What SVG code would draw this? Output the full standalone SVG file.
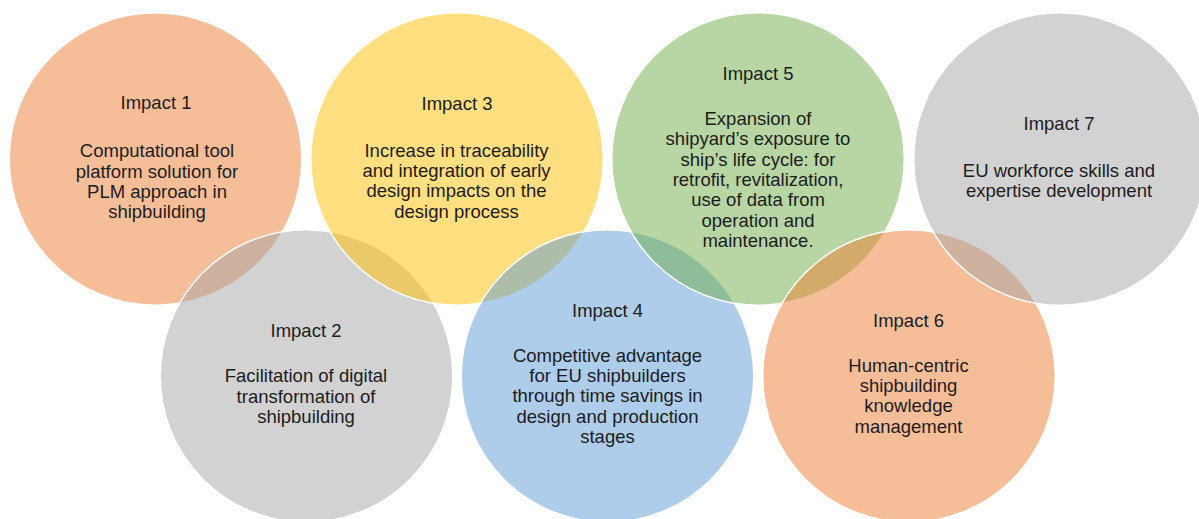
<svg xmlns="http://www.w3.org/2000/svg" width="1199" height="519" viewBox="0 0 1199 519">
<style>
.c{stroke:#ffffff;stroke-width:1.5;fill-opacity:0.5}
.t{font-family:"Liberation Sans",Arial,Helvetica,sans-serif;font-size:18.5px;fill:#1c1c1c;text-anchor:middle}
</style>
<rect width="1199" height="519" fill="#ffffff"/>
<g id="impact1">
<circle class="c" cx="155.5" cy="159" r="146.3" fill="#ED7D31"/>
<text class="t" x="156" y="109">Impact 1</text>
<text class="t" x="157" y="157.3">Computational tool</text>
<text class="t" x="157" y="177.6">platform solution for</text>
<text class="t" x="157" y="197.9">PLM approach in</text>
<text class="t" x="157" y="218.2">shipbuilding</text>
</g>
<g id="impact2">
<circle class="c" cx="306.5" cy="376" r="146.3" fill="#A5A5A5"/>
<text class="t" x="306" y="336.7">Impact 2</text>
<text class="t" x="306" y="382.3">Facilitation of digital</text>
<text class="t" x="306" y="402.6">transformation of</text>
<text class="t" x="306" y="422.9">shipbuilding</text>
</g>
<g id="impact3">
<circle class="c" cx="457" cy="159" r="146.3" fill="#FFC000"/>
<text class="t" x="457" y="110">Impact 3</text>
<text class="t" x="456.5" y="156.7">Increase in traceability</text>
<text class="t" x="456.5" y="177">and integration of early</text>
<text class="t" x="456.5" y="197.3">design impacts on the</text>
<text class="t" x="456.5" y="217.6">design process</text>
</g>
<g id="impact4">
<circle class="c" cx="607.5" cy="376" r="146.3" fill="#5B9BD5"/>
<text class="t" x="607.5" y="316.7">Impact 4</text>
<text class="t" x="607.5" y="361.7">Competitive advantage</text>
<text class="t" x="607.5" y="382">for EU shipbuilders</text>
<text class="t" x="607.5" y="402.3">through time savings in</text>
<text class="t" x="607.5" y="422.6">design and production</text>
<text class="t" x="607.5" y="442.9">stages</text>
</g>
<g id="impact5">
<circle class="c" cx="758" cy="159" r="146.3" fill="#70AD47"/>
<text class="t" x="758" y="80">Impact 5</text>
<text class="t" x="758" y="125">Expansion of</text>
<text class="t" x="758" y="145.3">shipyard’s exposure to</text>
<text class="t" x="758" y="165.6">ship’s life cycle: for</text>
<text class="t" x="758" y="185.9">retrofit, revitalization,</text>
<text class="t" x="758" y="206.2">use of data from</text>
<text class="t" x="758" y="226.5">operation and</text>
<text class="t" x="758" y="246.8">maintenance.</text>
</g>
<g id="impact6">
<circle class="c" cx="909" cy="376" r="146.3" fill="#ED7D31"/>
<text class="t" x="908.5" y="326.7">Impact 6</text>
<text class="t" x="908.5" y="371.7">Human-centric</text>
<text class="t" x="908.5" y="392">shipbuilding</text>
<text class="t" x="908.5" y="412.3">knowledge</text>
<text class="t" x="908.5" y="432.6">management</text>
</g>
<g id="impact7">
<circle class="c" cx="1060" cy="159" r="146.3" fill="#A5A5A5"/>
<text class="t" x="1059" y="130">Impact 7</text>
<text class="t" x="1059" y="176.7">EU workforce skills and</text>
<text class="t" x="1059" y="197">expertise development</text>
</g>
</svg>
